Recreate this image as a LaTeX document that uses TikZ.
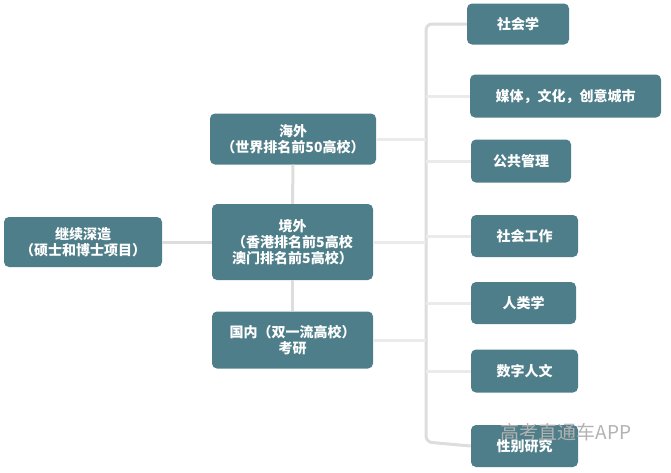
\documentclass[tikz,border=0pt]{standalone}
\usepackage{fontspec}
\setmainfont{Noto Sans CJK SC}
\usetikzlibrary{positioning}
\definecolor{boxteal}{HTML}{4E7E89}
\definecolor{linegray}{HTML}{DDDDDD}
\tikzstyle{Caja}=[rectangle, rounded corners=5pt, fill=boxteal, text=white, font=\fontsize{14}{16}\selectfont\bfseries, align=center, inner sep=2pt]
\tikzstyle{Linea}=[draw=linegray, line width=3pt]
\tikzstyle{LineaFina}=[draw=linegray!60, line width=3pt]
\begin{document}
\begin{tikzpicture}[x=1pt, y=-1pt]
			\useasboundingbox (0,0) rectangle (671,472);
			%Nodos
			\node[Caja, minimum width=158pt, minimum height=50pt] (deep) at (83,242) {继续深造\\（硕士和博士项目）};
			\node[Caja, minimum width=166pt, minimum height=51pt] (abroad) at (293,139) {海外\\（世界排名前50高校）};
			\node[Caja, minimum width=161pt, minimum height=76pt] (hkmo) at (292.5,242) {境外\\（香港排名前5高校\\澳门排名前5高校）};
			\node[Caja, minimum width=161pt, minimum height=57pt] (home) at (292.5,340) {国内（双一流高校）\\考研};

			\node[Caja, minimum width=102pt, minimum height=41pt] (soc) at (518,24) {社会学};
			\node[Caja, minimum width=191pt, minimum height=43pt] (media) at (565.5,96) {媒体，文化，创意城市};
			\node[Caja, minimum width=100pt, minimum height=43pt] (pub) at (521,161) {公共管理};
			\node[Caja, minimum width=107pt, minimum height=42pt] (work) at (524.5,236) {社会工作};
			\node[Caja, minimum width=105pt, minimum height=42pt] (anth) at (523.5,303) {人类学};
			\node[Caja, minimum width=107pt, minimum height=43pt] (digi) at (524.5,371) {数字人文};
			\node[Caja, minimum width=107pt, minimum height=42pt] (gender) at (524.5,446) {性别研究};

			\coordinate (bartop) at (426,24);
			\coordinate (barbot) at (426,442);

			%Lineas
			\draw[Linea, rounded corners=6pt] (soc.west) -- (bartop) -- (barbot) -- (gender.west);
			\foreach \n in {media, pub, work, anth, digi}
				\draw[LineaFina] (\n.west -| bartop) -- (\n.west);
			\foreach \n in {abroad, hkmo, home}
				\draw[LineaFina] (\n.east) -- (\n.east -| bartop);
			\draw[Linea] (deep.east) -- (hkmo.west);
			\draw[Linea] (abroad.south) -- (hkmo.north);
			\draw[Linea] (hkmo.south) -- (home.north);

			%Marca
			\node[text=gray!60, font=\fontsize{19}{21}\selectfont, inner sep=0pt] (mark) at (566,432) {高考直通车APP};
		\end{tikzpicture}
\end{document}
